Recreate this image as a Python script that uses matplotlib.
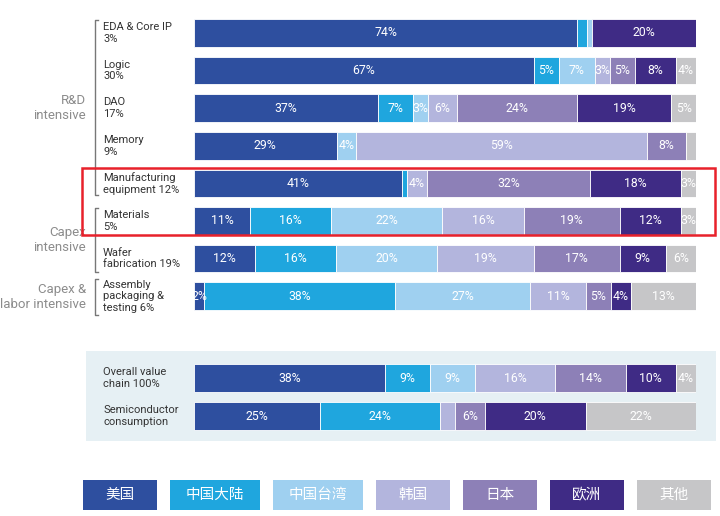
import matplotlib
matplotlib.use('Agg')
import matplotlib.pyplot as plt
from matplotlib.patches import Rectangle

plt.rcParams['font.family'] = ['Roboto', 'Noto Sans CJK SC', 'DejaVu Sans']

# regions: US, China mainland, Taiwan, Korea, Japan, Europe, Others
regions = ['美国', '中国大陆', '中国台湾', '韩国', '日本', '欧洲', '其他']
colors = ['#2e4f9f', '#1fa6de', '#9fd0f0', '#b3b5dd', '#8d80b7', '#3f2b85', '#c6c6c8']

top_rows = ['EDA & Core IP\n3%', 'Logic\n30%', 'DAO\n17%', 'Memory\n9%',
            'Manufacturing\nequipment 12%', 'Materials\n5%',
            'Wafer\nfabrication 19%', 'Assembly\npackaging &\ntesting 6%']
top_values = [
    [74, 2, 1, 0, 0, 20, 0],
    [67, 5, 7, 3, 5, 8, 4],
    [37, 7, 3, 6, 24, 19, 5],
    [29, 0, 4, 59, 8, 0, 2],
    [41, 1, 0, 4, 32, 18, 3],
    [11, 16, 22, 16, 19, 12, 3],
    [12, 16, 20, 19, 17, 9, 6],
    [2, 38, 27, 11, 5, 4, 13],
]
top_shown = [
    [1, 0, 0, 0, 0, 1, 0],
    [1, 1, 1, 1, 1, 1, 1],
    [1, 1, 1, 1, 1, 1, 1],
    [1, 0, 1, 1, 1, 0, 0],
    [1, 0, 0, 1, 1, 1, 1],
    [1, 1, 1, 1, 1, 1, 1],
    [1, 1, 1, 1, 1, 1, 1],
    [1, 1, 1, 1, 1, 1, 1],
]

bottom_rows = ['Overall value\nchain 100%', 'Semiconductor\nconsumption']
bottom_values = [
    [38, 9, 9, 16, 14, 10, 4],
    [25, 24, 0, 3, 6, 20, 22],
]
bottom_shown = [
    [1, 1, 1, 1, 1, 1, 1],
    [1, 1, 0, 0, 1, 1, 1],
]

groups = ['R&D\nintensive', 'Capex\nintensive', 'Capex &\nlabor intensive']
group_span = [(20, 195), (208, 272), (279, 315)]
group_label_y = [108, 240, 297]

fig = plt.figure(figsize=(7.2, 5.16), dpi=100)
bg = fig.add_axes([0, 0, 1, 1])
bg.set_xlim(0, 720)
bg.set_ylim(516, 0)
bg.axis('off')

ax = fig.add_axes([194 / 720, 0, 502 / 720, 1])
ax.set_xlim(0, 100)
ax.set_ylim(516, 0)
ax.axis('off')
ax.patch.set_alpha(0)

# light panel behind the two summary rows
bg.add_patch(Rectangle((86, 351), 630, 90, color='#e6f0f4', lw=0))


def draw_row(y, label, vals, shown):
    total = sum(vals)
    left = 0
    for k, v in enumerate(vals):
        if v == 0:
            continue
        w = v / total * 100
        ax.barh(y, w, left=left, height=27.5, color=colors[k],
                edgecolor='white', linewidth=0.6)
        if shown[k]:
            ax.text(left + w / 2, y, f'{v}%', ha='center', va='center',
                    color='white', fontsize=8.8)
        left += w
    bg.text(103, y, label, ha='left', va='center', fontsize=8,
            color='#333333', linespacing=1.2)


for i, (lab, vals, sh) in enumerate(zip(top_rows, top_values, top_shown)):
    draw_row(33 + i * 37.6, lab, vals, sh)

for j, (lab, vals, sh) in enumerate(zip(bottom_rows, bottom_values, bottom_shown)):
    draw_row(378 + j * 38, lab, vals, sh)

# group brackets and labels
for g, (y0, y1), gy in zip(groups, group_span, group_label_y):
    bg.plot([97.5, 95, 95, 97.5], [y0, y0, y1, y1], color='#777777', lw=1)
    bg.text(86, gy, g, ha='right', va='center', fontsize=9.5,
            color='#8c8c8c', linespacing=1.25)

# highlight box
ax.add_patch(Rectangle((82, 168), 633, 67, transform=bg.transData,
                       fill=False, edgecolor='#e8212b', lw=1.8, clip_on=False,
                       zorder=10))

# legend
x = 83
for name, c in zip(regions, colors):
    w = 58 + 8 * len(name)
    bg.add_patch(Rectangle((x, 480), w, 30, color=c, lw=0))
    bg.text(x + w / 2, 495, name, ha='center', va='center', color='white',
            fontsize=10.5, family=['Noto Sans CJK SC', 'DejaVu Sans'])
    x += w + 13

fig.savefig('out.png', dpi=100)
